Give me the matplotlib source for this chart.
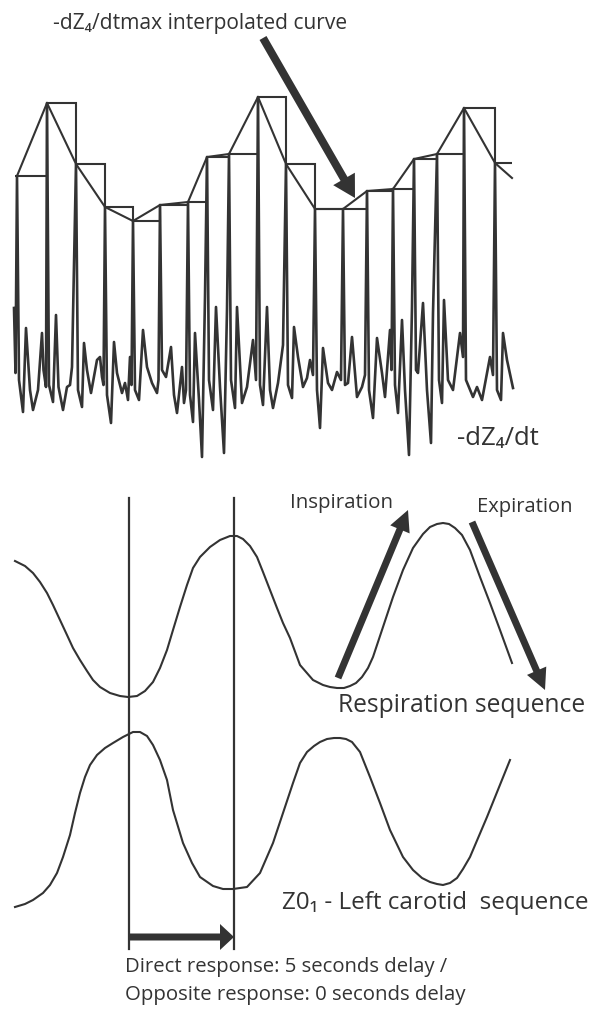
import matplotlib
matplotlib.use("Agg")
from matplotlib import pyplot as plt
from matplotlib.patches import FancyArrow

# -dZ4/dt beats: position of each beat and height of its peak (picture px, y down)
beat_x = [17, 47, 76, 105, 133, 160, 188, 207, 229, 258, 286, 315, 343, 367, 393, 414, 437, 464, 495]
beat_top = [176, 103, 164, 207, 221, 205, 202, 157, 154, 97, 164, 209, 209, 191, 189, 159, 154, 108, 163]
step_start = 15
step_end = 512
curve_end = (512, 178)

# trace before the first beat and between beats
trace_lead = [(14, 308), (15.5, 373)]
trace_between = [
    [(19, 380), (23, 412), (26, 328), (30, 390), (33, 410), (38, 390), (42, 333), (43.5, 370), (46, 387)],
    [(49, 385), (53, 402), (56, 315), (58.5, 387), (63, 410), (67, 387), (70, 385), (72, 367)],
    [(78, 390), (82, 407), (84, 343), (87, 370), (91, 393), (97, 360), (100, 357), (102, 377), (103.5, 385)],
    [(107, 395), (111, 423), (114, 342), (117, 373), (122, 393), (125, 383), (128, 400), (130, 357), (131.5, 385)],
    [(135, 390), (139, 400), (143, 330), (147, 367), (152, 383), (157, 393), (158.5, 380)],
    [(162, 370), (166, 377), (171, 347), (174, 395), (177, 413), (182, 367), (184, 403), (186, 390)],
    [(190, 395), (193, 422), (195, 333), (199, 400), (202, 457), (205, 297)],
    [(209, 380), (213, 410), (216, 307), (220, 387), (224, 453), (227, 310)],
    [(231, 380), (235, 408), (237, 307), (242, 403), (247, 387), (253, 340), (256, 380)],
    [(260, 385), (263, 405), (267, 307), (270, 390), (273, 408), (278, 383), (283, 345)],
    [(288, 385), (292, 398), (294, 327), (298, 357), (303, 387), (307, 378), (310, 360), (313, 375)],
    [(317, 390), (320, 428), (323, 348), (328, 383), (332, 390), (337, 372), (341, 380)],
    [(345, 385), (348, 383), (352, 337), (357, 397), (362, 387), (365, 375)],
    [(369, 390), (373, 418), (377, 338), (382, 373), (385, 397), (390, 330), (391.5, 370)],
    [(395, 385), (398, 413), (402, 320), (405, 390), (409, 455), (412, 307)],
    [(416, 370), (418, 373), (423, 303), (427, 390), (431, 443), (433, 313)],
    [(439, 380), (442, 403), (444, 300), (448, 380), (453, 390), (460, 333), (463, 357)],
    [(466, 380), (473, 397), (477, 387), (482, 400), (487, 373), (490, 357), (493, 375)],
    [(497, 390), (501, 400), (503, 333), (507, 360), (513, 388)],
]

# respiration sequence
resp_x = [15, 25, 33, 40, 47, 53, 60, 67, 73, 80, 87, 93, 100, 110, 120, 128, 137, 145, 153, 160,
          167, 173, 180, 187, 193, 200, 210, 220, 230, 237, 243, 250, 257, 263, 270, 277, 283, 290,
          300, 313, 323, 330, 337, 344, 350, 356, 362, 368, 373, 383, 393, 403, 413, 423, 430, 437,
          443, 449, 455, 462, 470, 480, 490, 500, 512]
resp_y = [561, 566, 573, 582, 593, 605, 620, 635, 648, 660, 671, 680, 687, 693, 696, 697, 696, 691, 682, 668,
          650, 630, 607, 585, 568, 557, 547, 540, 536, 536, 539, 546, 557, 572, 590, 608, 623, 638,
          665, 680, 685, 687, 688, 688, 686, 683, 677, 668, 657, 627, 597, 570, 548, 534, 527, 524,
          523, 524, 528, 535, 550, 577, 603, 630, 663]

# Z0_1 left carotid sequence
car_x = [15, 25, 33, 43, 50, 57, 63, 70, 75, 80, 85, 90, 97, 105, 113, 123, 133, 140, 147, 153,
         160, 167, 173, 183, 192, 200, 213, 223, 233, 247, 260, 273, 283, 293, 300, 307, 314, 320,
         327, 334, 340, 346, 352, 360, 370, 380, 390, 403, 413, 422, 430, 437, 443, 450, 457, 463,
         470, 487, 510]
car_y = [907, 904, 900, 893, 885, 873, 857, 835, 813, 793, 777, 765, 755, 748, 743, 737, 732, 732, 736, 745,
         760, 780, 810, 843, 863, 877, 886, 889, 889, 887, 873, 843, 813, 783, 763, 752, 746, 742,
         739, 738, 738, 739, 742, 752, 777, 803, 830, 857, 870, 878, 882, 884, 885, 883, 878, 869,
         857, 817, 760]

# the two time markers and the delay arrow
marker_x = [129, 234]
marker_top = 498
marker_bottom = 949
delay_y = 937

INK = "#333333"
FONT = ["Open Sans", "Noto Sans", "DejaVu Sans"]

fig = plt.figure(figsize=(5.95, 10.14), dpi=100)
ax = fig.add_axes([0, 0, 1, 1])
ax.set_xlim(0, 595)
ax.set_ylim(1014, 0)
ax.axis("off")

# raw -dZ4/dt trace
tx = [p[0] for p in trace_lead]
ty = [p[1] for p in trace_lead]
for bx, top, seg in zip(beat_x, beat_top, trace_between):
    tx.append(bx)
    ty.append(top)
    tx += [p[0] for p in seg]
    ty += [p[1] for p in seg]
ax.plot(tx, ty, color=INK, lw=1.9, solid_joinstyle="round")

# sample-and-hold steps of the peak values
ax.stairs(beat_top, [step_start] + beat_x[1:] + [step_end], baseline=None, color=INK, lw=1.5)

# interpolated curve through the peaks
ax.plot(beat_x + [curve_end[0]], beat_top + [curve_end[1]], color=INK, lw=1.5)

# respiration and carotid sequences
ax.plot(resp_x, resp_y, color=INK, lw=1.5)
ax.plot(car_x, car_y, color=INK, lw=1.5)
for mx in marker_x:
    ax.plot([mx, mx], [marker_top, marker_bottom], color=INK, lw=1.6)

# arrows
arrows = [
    ((263, 38), (355, 198), 8, 25, 22),
    ((338, 678), (408, 510), 7, 21, 21),
    ((472, 522), (545, 690), 7, 21, 21),
    ((marker_x[0], delay_y), (marker_x[1], delay_y), 7, 26, 14),
]
for (x0, y0), (x1, y1), w, hw, hl in arrows:
    ax.add_patch(FancyArrow(x0, y0, x1 - x0, y1 - y0, width=w, head_width=hw, head_length=hl,
                            length_includes_head=True, color=INK, lw=0))

# labels, each fitted to the width it takes in the picture
renderer = fig.canvas.get_renderer()


def label(x0, x1, y, s):
    t = ax.text(x0, y, s, ha="left", va="center", fontsize=12, family=FONT, color=INK)
    w = t.get_window_extent(renderer).width
    t.set_fontsize(12 * (x1 - x0) / w)


label(53, 345, 23, "-dZ\u2084/dtmax interpolated curve")
label(457, 538, 438, "-dZ\u2084/dt")
label(290, 392, 503, "Inspiration")
label(477, 572, 507, "Expiration")
label(338, 584, 705, "Respiration sequence")
label(282, 587, 903, "Z0\u2081 - Left carotid  sequence")
label(125, 445, 967, "Direct response: 5 seconds delay /")
label(125, 463, 995, "Opposite response: 0 seconds delay")

fig.savefig("out.png", dpi=100)
